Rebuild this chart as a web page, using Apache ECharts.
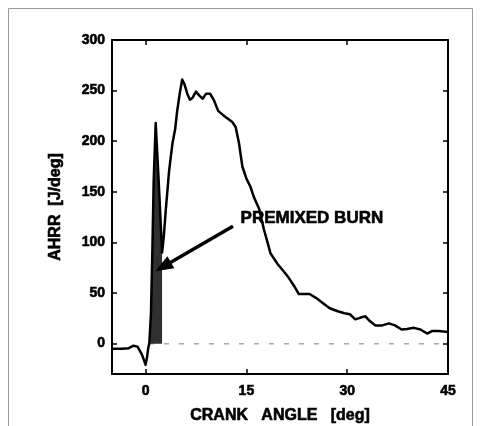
<!DOCTYPE html>
<html>
<head>
<meta charset="utf-8">
<script src="https://cdn.jsdelivr.net/npm/echarts@6/dist/echarts.min.js"></script>
<style>
  html, body { margin: 0; padding: 0; background: #ffffff; }
  #chart { width: 480px; height: 426px; }
</style>
</head>
<body>
<div id="chart"></div>
<script>
// Apparent heat release rate versus crank angle
const crankAngle = [
  -5.0, -3.5, -2.5, -1.8, -1.2, -0.6, -0.2, 0.0, 0.2, 0.4, 0.55, 0.8, 1.0, 1.2, 1.5,
  1.8, 2.1, 2.45, 2.7, 3.0, 3.5, 4.0, 4.4, 4.7, 5.1, 5.45, 5.8, 6.2, 6.6, 7.0,
  7.5, 8.0, 8.5, 9.0, 9.6, 10.2, 10.8, 11.5, 12.3, 12.9, 13.4, 13.9, 14.4, 15.0, 15.6,
  16.1, 16.9, 17.6, 18.1, 18.6, 19.6, 20.6, 21.3, 22.1, 22.8, 23.6, 24.4, 25.4, 26.4, 27.4,
  28.6, 29.6, 30.4, 31.2, 31.9, 32.7, 33.4, 34.2, 35.2, 36.2, 37.1, 38.1, 38.9, 39.9, 40.9,
  41.9, 42.6, 43.6, 45.0
];
const ahrr = [
  -5, -5, -4.5, -2, -3, -10, -17, -21, -14, -4, 0, 30, 90, 160, 218,
  180, 140, 90, 105, 132, 171, 198, 212, 230, 248, 261, 256, 247, 241, 243,
  249, 245, 242, 247, 247, 240, 230, 226, 222, 219, 214, 198, 175, 163, 155,
  145, 133, 113, 101, 89, 79, 71, 65, 57, 49, 49, 49, 45, 40, 35,
  32, 30, 29, 24, 25.5, 27, 22, 18, 18, 20, 18, 14, 14.4, 15.6, 14,
  10, 12.4, 12.4, 11.5
];

// Axis ticks
const xTicks = [0, 15, 30, 45];
const yTicks = [0, 50, 100, 150, 200, 250, 300];

// Shaded premixed-burn interval (crank angle, deg)
const premixedRange = [0.55, 2.45];
// Dashed zero reference line extent (crank angle, deg)
const zeroRefX = [0.5, 45];

// Annotation: label anchor and arrow (data coordinates)
const premixedLabel = { text: 'PREMIXED BURN', at: [24.75, 123.8] };
const premixedArrow = { from: [13.0, 116], to: [2.6, 76] };

const curve = crankAngle.map((a, i) => [a, ahrr[i]]);
const premixed = curve.filter(p => p[0] >= premixedRange[0] && p[0] <= premixedRange[1]);
const zeroRef = zeroRefX.map(a => [a, 0]);

const FONT = "'Liberation Sans', Arial, Helvetica, sans-serif";
const black = '#000000';
// heavy bold lettering: bold face plus a thin outline in the same colour
const heavy = { fontFamily: FONT, fontWeight: 'bold', color: black, textBorderColor: black, textBorderWidth: 0.6 };

function frameAxis(extra) {
  return Object.assign({
    type: 'value',
    axisLine: { show: true, onZero: false, lineStyle: { color: black, width: 2 } },
    splitLine: { show: false }
  }, extra);
}

const chart = echarts.init(document.getElementById('chart'), null, { renderer: 'canvas' });

chart.setOption({
  animation: false,
  backgroundColor: '#ffffff',
  grid: { left: 112, top: 40, width: 336, height: 334, containLabel: false, outerBoundsMode: 'none' },
  xAxis: [
    frameAxis({
      min: -5, max: 45, position: 'bottom',
      axisTick: { show: true, inside: true, length: 5, customValues: xTicks, lineStyle: { color: black, width: 1.5 } },
      axisLabel: Object.assign({ show: true, customValues: xTicks, margin: 10, fontSize: 14 }, heavy),
      name: 'CRANK   ANGLE   [deg]', nameLocation: 'middle', nameGap: 34,
      nameTextStyle: Object.assign({ fontSize: 16 }, heavy)
    }),
    frameAxis({
      min: -5, max: 45, position: 'top',
      axisTick: { show: true, inside: true, length: 5, customValues: xTicks, lineStyle: { color: black, width: 1.5 } },
      axisLabel: { show: false }
    })
  ],
  yAxis: [
    frameAxis({
      min: -30, max: 300, position: 'left',
      axisTick: { show: true, inside: true, length: 5, customValues: yTicks, lineStyle: { color: black, width: 1.5 } },
      axisLabel: Object.assign({ show: true, customValues: yTicks, margin: 7, fontSize: 14 }, heavy),
      name: 'AHRR  [J/deg]', nameLocation: 'middle', nameGap: 48, nameRotate: 90,
      nameTextStyle: Object.assign({ fontSize: 16 }, heavy)
    }),
    frameAxis({
      min: -30, max: 300, position: 'right',
      axisTick: { show: true, inside: true, length: 5, customValues: yTicks, lineStyle: { color: black, width: 1.5 } },
      axisLabel: { show: false }
    })
  ],
  series: [
    {
      name: 'zero',
      type: 'line',
      data: zeroRef,
      symbol: 'none',
      silent: true,
      z: 1,
      lineStyle: { color: '#a8a8a8', width: 1.5, type: [5, 10] }
    },
    {
      name: 'premixed',
      type: 'line',
      data: premixed,
      symbol: 'none',
      silent: true,
      z: 2,
      lineStyle: { width: 0 },
      areaStyle: { color: '#303030', opacity: 1 }
    },
    {
      name: 'AHRR',
      type: 'line',
      data: curve,
      symbol: 'none',
      z: 3,
      lineStyle: { color: black, width: 2.5, join: 'round' },
      markLine: {
        silent: true,
        symbol: ['none', 'triangle'],
        symbolSize: [14, 18],
        label: { show: false },
        lineStyle: { color: black, width: 3.5, type: 'solid' },
        data: [[{ coord: premixedArrow.from }, { coord: premixedArrow.to }]]
      },
      markPoint: {
        silent: true,
        symbol: 'rect',
        symbolSize: 1,
        itemStyle: { color: 'rgba(0,0,0,0)' },
        label: Object.assign({
          show: true, position: 'inside', formatter: premixedLabel.text, fontSize: 17
        }, heavy),
        data: [{ coord: premixedLabel.at }]
      }
    }
  ],
  graphic: [
    {
      type: 'rect',
      silent: true,
      shape: { x: 8.5, y: 8.5, width: 464, height: 440 },
      style: { fill: 'none', stroke: '#9a9a9a', lineWidth: 1 }
    }
  ]
});
</script>
</body>
</html>
